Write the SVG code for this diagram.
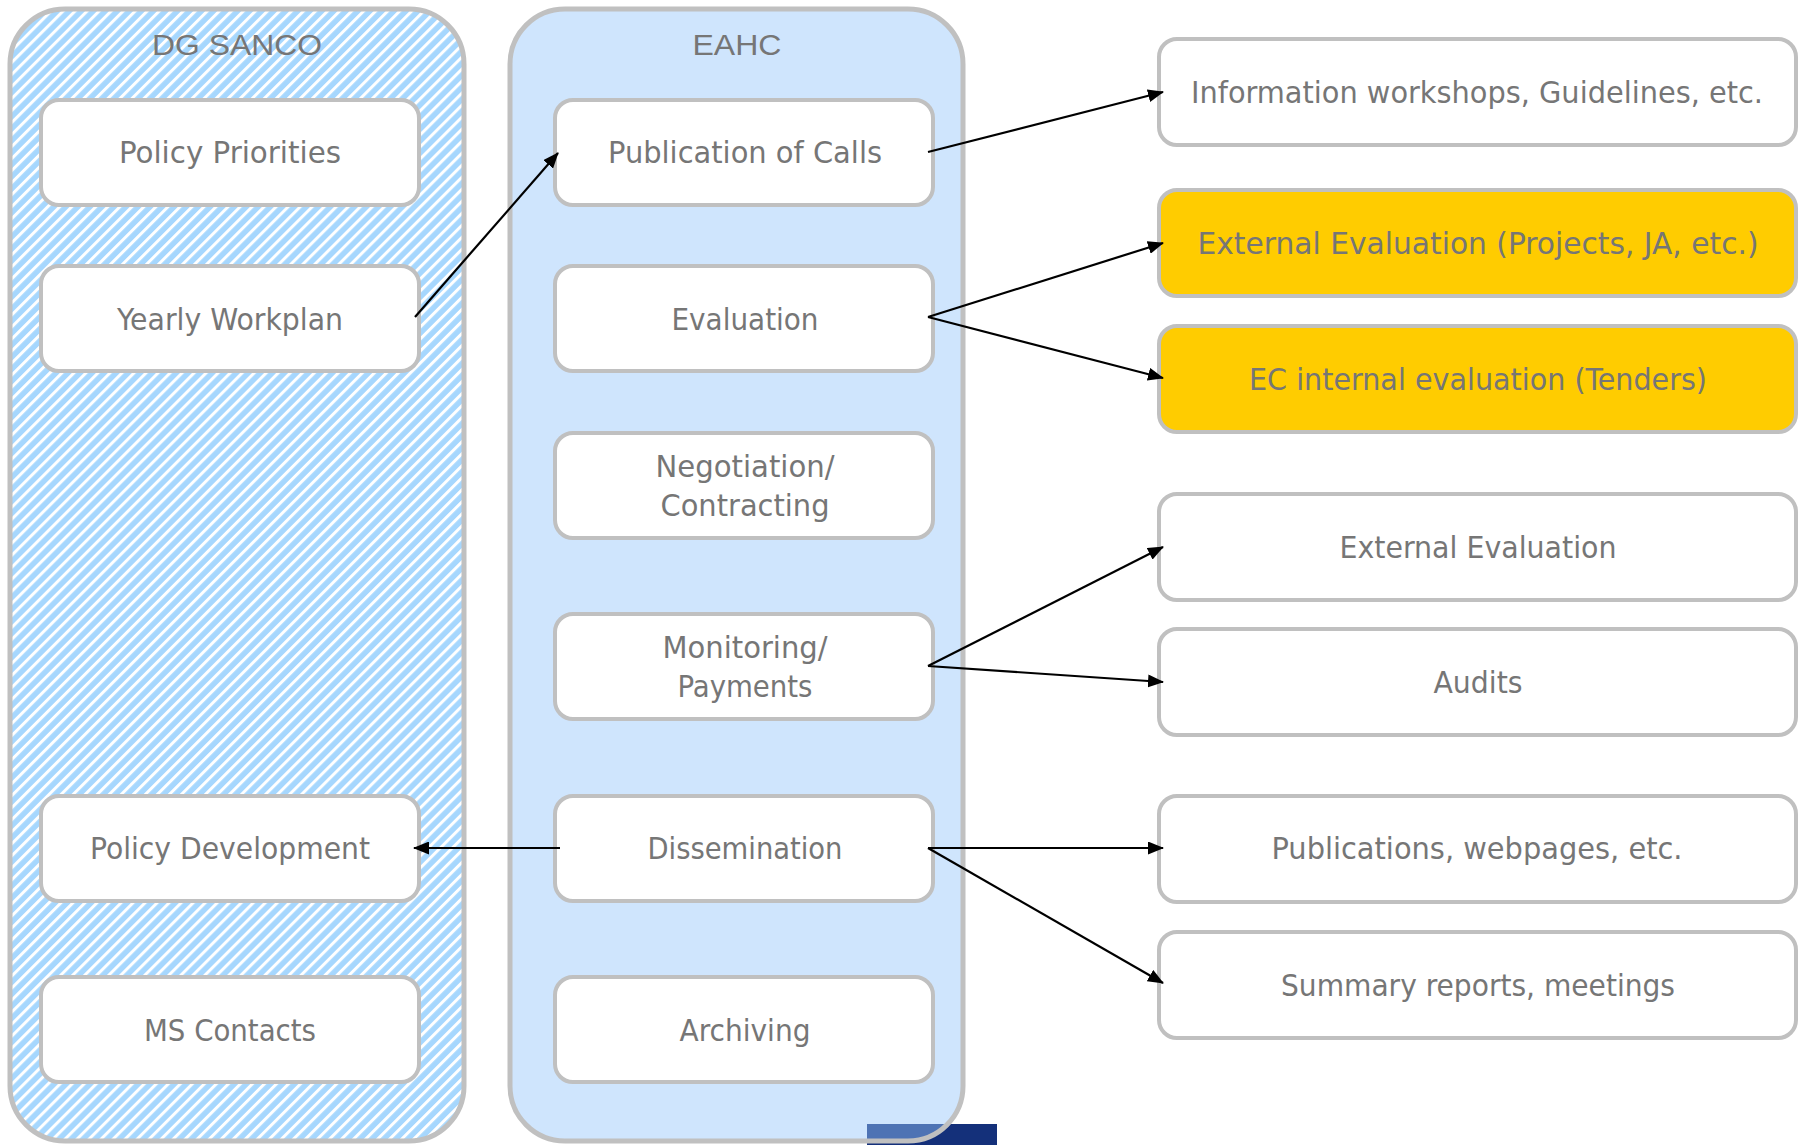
<svg xmlns="http://www.w3.org/2000/svg" width="1807" height="1145" viewBox="0 0 1807 1145">
<style>
.cont{stroke:#c0c0c0;stroke-width:5}
.box{fill:#ffffff;stroke:#c0c0c0;stroke-width:4}
.ybox{fill:#ffcc00;stroke:#c0c0c0;stroke-width:4}
.t{font-family:"DejaVu Sans Condensed","DejaVu Sans",sans-serif;font-size:30px;fill:#767676;text-anchor:middle}
.title{font-family:"Liberation Sans",Arial,sans-serif;font-size:30px;fill:#767676;text-anchor:middle}
.conn{stroke:#000;stroke-width:2.2;fill:none;marker-end:url(#arr)}
</style>
<defs>
<pattern id="hatch" patternUnits="userSpaceOnUse" width="8.5" height="8.5" patternTransform="rotate(45)">
<rect width="8.5" height="8.5" fill="#a6d7fe"/>
<rect width="3" height="8.5" fill="#ffffff"/>
</pattern>
<marker id="arr" markerUnits="userSpaceOnUse" markerWidth="16" markerHeight="13" viewBox="0 0 16 13" refX="15" refY="6.5" orient="auto">
<path d="M0,0 L16,6.5 L0,13 z" fill="#000"/>
</marker>
</defs>
<rect x="0" y="0" width="1807" height="1145" fill="#ffffff"/>
<rect x="867" y="1124" width="130" height="21" fill="#14307a"/>
<g id="dgsanco">
<rect class="cont" x="10" y="9" width="454" height="1132" rx="55" ry="55" fill="url(#hatch)"/>
<text class="title" x="237" y="55" textLength="170" lengthAdjust="spacingAndGlyphs">DG SANCO</text>
</g>
<g id="eahc">
<rect class="cont" x="510" y="9" width="453" height="1132" rx="55" ry="55" fill="rgb(149,198,251)" fill-opacity="0.45"/>
<text class="title" x="737" y="55" textLength="89" lengthAdjust="spacingAndGlyphs">EAHC</text>
</g>
<g id="policy-priorities"><rect class="box" x="41" y="100" width="378" height="105" rx="18"/><text class="t" x="230" y="163" textLength="222" lengthAdjust="spacingAndGlyphs">Policy Priorities</text></g>
<g id="yearly-workplan"><rect class="box" x="41" y="266" width="378" height="105" rx="18"/><text class="t" x="230" y="330" textLength="226" lengthAdjust="spacingAndGlyphs">Yearly Workplan</text></g>
<g id="policy-development"><rect class="box" x="41" y="796" width="378" height="105" rx="18"/><text class="t" x="230" y="859" textLength="280" lengthAdjust="spacingAndGlyphs">Policy Development</text></g>
<g id="ms-contacts"><rect class="box" x="41" y="977" width="378" height="105" rx="18"/><text class="t" x="230" y="1041" textLength="172" lengthAdjust="spacingAndGlyphs">MS Contacts</text></g>
<g id="publication"><rect class="box" x="555" y="100" width="378" height="105" rx="18"/><text class="t" x="745" y="163" textLength="274" lengthAdjust="spacingAndGlyphs">Publication of Calls</text></g>
<g id="evaluation"><rect class="box" x="555" y="266" width="378" height="105" rx="18"/><text class="t" x="745" y="330" textLength="147" lengthAdjust="spacingAndGlyphs">Evaluation</text></g>
<g id="negotiation"><rect class="box" x="555" y="433" width="378" height="105" rx="18"/><text class="t" x="745" y="477" textLength="179" lengthAdjust="spacingAndGlyphs">Negotiation/</text><text class="t" x="745" y="516" textLength="169" lengthAdjust="spacingAndGlyphs">Contracting</text></g>
<g id="monitoring"><rect class="box" x="555" y="614" width="378" height="105" rx="18"/><text class="t" x="745" y="658" textLength="165" lengthAdjust="spacingAndGlyphs">Monitoring/</text><text class="t" x="745" y="697" textLength="135" lengthAdjust="spacingAndGlyphs">Payments</text></g>
<g id="dissemination"><rect class="box" x="555" y="796" width="378" height="105" rx="18"/><text class="t" x="745" y="859" textLength="195" lengthAdjust="spacingAndGlyphs">Dissemination</text></g>
<g id="archiving"><rect class="box" x="555" y="977" width="378" height="105" rx="18"/><text class="t" x="745" y="1041" textLength="131" lengthAdjust="spacingAndGlyphs">Archiving</text></g>
<g id="info-workshops"><rect class="box" x="1159" y="39" width="637" height="106" rx="18"/><text class="t" x="1477" y="103" textLength="572" lengthAdjust="spacingAndGlyphs">Information workshops, Guidelines, etc.</text></g>
<g id="ext-eval-projects"><rect class="ybox" x="1159" y="190" width="637" height="106" rx="18"/><text class="t" x="1478" y="254" textLength="561" lengthAdjust="spacingAndGlyphs">External Evaluation (Projects, JA, etc.)</text></g>
<g id="ec-internal"><rect class="ybox" x="1159" y="326" width="637" height="106" rx="18"/><text class="t" x="1478" y="390" textLength="458" lengthAdjust="spacingAndGlyphs">EC internal evaluation (Tenders)</text></g>
<g id="external-evaluation"><rect class="box" x="1159" y="494" width="637" height="106" rx="18"/><text class="t" x="1478" y="558" textLength="277" lengthAdjust="spacingAndGlyphs">External Evaluation</text></g>
<g id="audits"><rect class="box" x="1159" y="629" width="637" height="106" rx="18"/><text class="t" x="1478" y="693" textLength="89" lengthAdjust="spacingAndGlyphs">Audits</text></g>
<g id="publications"><rect class="box" x="1159" y="796" width="637" height="106" rx="18"/><text class="t" x="1477" y="859" textLength="411" lengthAdjust="spacingAndGlyphs">Publications, webpages, etc.</text></g>
<g id="summary"><rect class="box" x="1159" y="932" width="637" height="106" rx="18"/><text class="t" x="1478" y="996" textLength="394" lengthAdjust="spacingAndGlyphs">Summary reports, meetings</text></g>
<g id="connectors">
<line class="conn" x1="415" y1="317" x2="558" y2="153"/>
<line class="conn" x1="928" y1="152" x2="1163" y2="92"/>
<line class="conn" x1="928" y1="317" x2="1163" y2="243"/>
<line class="conn" x1="928" y1="317" x2="1163" y2="378"/>
<line class="conn" x1="928" y1="666" x2="1163" y2="547"/>
<line class="conn" x1="928" y1="666" x2="1163" y2="682"/>
<line class="conn" x1="928" y1="848" x2="1163" y2="848"/>
<line class="conn" x1="928" y1="848" x2="1163" y2="983"/>
<line class="conn" x1="560" y1="848" x2="414" y2="848"/>
</g>
</svg>
